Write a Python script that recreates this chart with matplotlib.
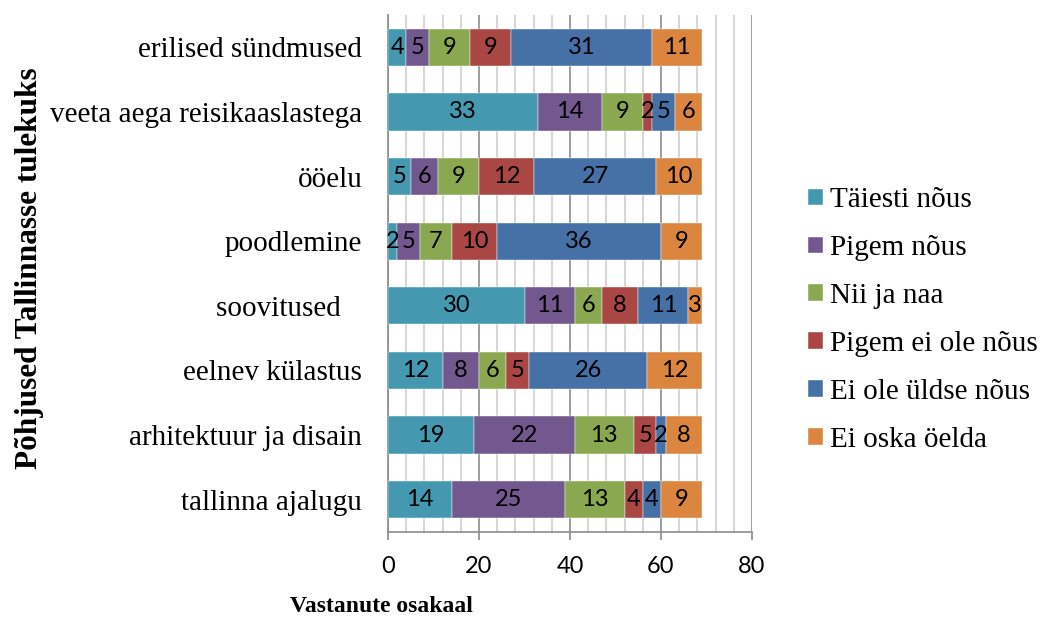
import matplotlib.pyplot as plt
import numpy as np

categories = ["tallinna ajalugu", "arhitektuur ja disain", "eelnev külastus",
              "soovitused   ", "poodlemine", "ööelu",
              "veeta aega reisikaaslastega", "erilised sündmused"]

series_names = ["Täiesti nõus", "Pigem nõus", "Nii ja naa",
                "Pigem ei ole nõus", "Ei ole üldse nõus", "Ei oska öelda"]

taiesti = [14, 19, 12, 30, 2, 5, 33, 4]
pigem = [25, 22, 8, 11, 5, 6, 14, 5]
nii_naa = [13, 13, 6, 6, 7, 9, 9, 9]
pigem_ei = [4, 5, 5, 8, 10, 12, 2, 9]
ei_ole = [4, 2, 26, 11, 36, 27, 5, 31]
ei_oska = [9, 8, 12, 3, 9, 10, 6, 11]

colors = ["#4499B0", "#73588F", "#8AA84F", "#AA4745", "#4571A7", "#DB853F"]

serif = "Liberation Serif"
sans = "Lato"

fig = plt.figure(figsize=(10.42, 6.19), dpi=100)
ax = fig.add_axes([388 / 1042, 1 - 532 / 619, 364 / 1042, 517 / 619])

y = np.arange(len(categories))
left = np.zeros(len(categories))
for name, vals, col in zip(series_names,
                           [taiesti, pigem, nii_naa, pigem_ei, ei_ole, ei_oska],
                           colors):
    vals = np.array(vals, dtype=float)
    bars = ax.barh(y, vals, left=left, height=0.575, color=col,
                   edgecolor="white", linewidth=0.3, label=name, zorder=3)
    for b, v in zip(bars, vals):
        ax.text(b.get_x() + b.get_width() / 2, b.get_y() + b.get_height() / 2,
                f"{int(v)}", ha="center", va="center", fontsize=17,
                family=sans, color="black", zorder=4)
    left += vals

ax.set_xlim(0, 80)
ax.set_ylim(-0.5, len(categories) - 0.5)

# gridlines: light every 4, darker every 20
ax.set_xticks(np.arange(0, 81, 20))
ax.set_xticks(np.arange(0, 81, 4), minor=True)
ax.grid(axis="x", which="minor", color="#D0D0D0", linewidth=1.2, zorder=0)
ax.grid(axis="x", which="major", color="#8C8C8C", linewidth=1.2, zorder=1)
ax.tick_params(axis="x", which="major", length=6, width=1.2, color="#8C8C8C",
               labelsize=17, pad=11)
ax.tick_params(axis="x", which="minor", length=0)
for lbl in ax.get_xticklabels():
    lbl.set_family(sans)

ax.set_yticks(y)
ax.set_yticklabels(categories, family=serif, fontsize=21)
ax.tick_params(axis="y", length=0, pad=18.5)

for side in ["top", "right"]:
    ax.spines[side].set_visible(False)
for side in ["left", "bottom"]:
    ax.spines[side].set_color("#8C8C8C")
    ax.spines[side].set_linewidth(1.2)

fig.text(30 / 1042, 1 - 268 / 619, "Põhjused Tallinnasse tulekuks",
         rotation=90, ha="center", va="center", family=serif,
         fontweight="bold", fontsize=22.5)
fig.text(381 / 1042, 1 - 607 / 619, "Vastanute osakaal", ha="center",
         va="center", family=serif, fontweight="bold", fontsize=17)

fig.legend(loc="center left", bbox_to_anchor=(808 / 1042, 1 - 320 / 619),
           frameon=False, prop={"family": serif, "size": 21},
           handlelength=0.5, handleheight=0.5, handletextpad=0.27,
           labelspacing=0.75, borderpad=0, borderaxespad=0)

fig.savefig("out.png", dpi=100)
